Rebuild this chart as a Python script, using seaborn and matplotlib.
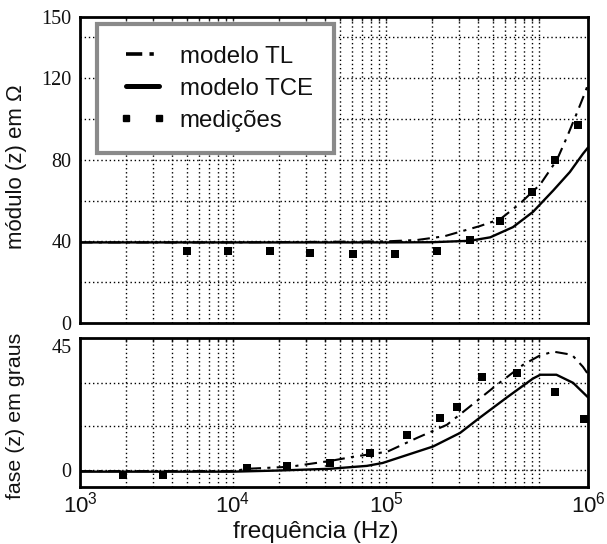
import matplotlib
matplotlib.use("Agg")
import matplotlib.pyplot as plt
import matplotlib.transforms as mtransforms
import seaborn as sns
import pandas as pd
from matplotlib.lines import Line2D
from matplotlib.ticker import FixedLocator, NullFormatter, FixedFormatter

# ---------------- data ----------------
freq_tl_mod = [1e3, 1e4, 1e5, 1.6e5, 2.4e5, 4.1e5, 5.6e5, 7.5e5, 1.02e6, 1.31e6, 1.52e6, 1.77e6, 2.0e6, 2.09e6]
mod_tl = [39.5, 39.5, 40.0, 40.7, 42.5, 47.5, 51.0, 58.5, 68.0, 80.0, 91.0, 103.0, 113.0, 117.0]

freq_tce_mod = [1e3, 1e4, 1e5, 2.0e5, 3.54e5, 4.8e5, 6.76e5, 9.14e5, 1.24e6, 1.59e6, 1.94e6, 2.09e6]
mod_tce = [39.5, 39.5, 39.5, 39.6, 40.3, 42.0, 47.0, 54.5, 65.0, 74.0, 83.0, 86.0]

freq_med_mod = [5.0e3, 9.3e3, 1.75e4, 3.2e4, 6.1e4, 1.15e5, 2.15e5, 3.54e5, 5.56e5, 9.0e5, 1.27e6, 1.80e6]
mod_med = [35.5, 35.5, 35.5, 34.5, 34.0, 34.0, 35.5, 40.5, 50.0, 64.0, 80.0, 97.0]

freq_tl_fase = [1e3, 1e4, 1.25e4, 2.36e4, 4.3e4, 6.2e4, 1.02e5, 1.6e5, 2.5e5, 3.38e5, 5.3e5, 7.85e5, 1.0e6, 1.24e6, 1.64e6, 1.94e6, 2.09e6]
fase_tl = [-0.5, -0.5, 0.3, 1.0, 3.0, 4.5, 6.2, 11.0, 15.5, 21.0, 29.3, 36.2, 39.3, 40.8, 39.7, 35.5, 33.0]

freq_tce_fase = [1e3, 1e4, 2e4, 4.3e4, 7.5e4, 9.5e4, 2.03e5, 3.05e5, 4.11e5, 6.18e5, 9.14e5, 1.02e6, 1.3e6, 1.67e6, 2.09e6]
fase_tce = [-0.7, -0.7, -0.3, 0.3, 1.3, 2.3, 8.0, 12.7, 18.0, 25.0, 31.5, 32.8, 32.8, 30.0, 25.0]

freq_med_fase = [1.9e3, 3.5e3, 1.23e4, 2.25e4, 4.3e4, 7.85e4, 1.37e5, 2.25e5, 2.91e5, 4.24e5, 7.18e5, 1.27e6, 1.97e6]
fase_med = [-1.7, -1.7, 0.7, 1.2, 2.4, 5.7, 12.0, 18.0, 21.7, 32.0, 33.4, 27.0, 17.6]

x_tick_labels = [r"$\mathregular{10^{3}}$", r"$\mathregular{10^{4}}$", r"$\mathregular{10^{5}}$", r"$\mathregular{10^{6}}$"]
mod_tick_labels = ["0", "40", "80", "120", "150"]
fase_tick_labels = ["0", "45"]
legend_labels = ["modelo TL", "modelo TCE", "medições"]

# ---------------- style ----------------
sns.set_style("white")
plt.rcParams["font.family"] = ["Liberation Sans", "DejaVu Sans"]
plt.rcParams["mathtext.fontset"] = "custom"
plt.rcParams["mathtext.rm"] = "Liberation Sans"
plt.rcParams["mathtext.it"] = "Liberation Sans:italic"

XMIN, XMAX = 1e3, 2.09e6
grid_x = [m * 10 ** k for k in (3, 4, 5) for m in range(2, 10)] + [1e4, 1e5, 1e6]
ink = "#111111"
dot = (0, (1, 2))
tl_dash = (0, (6, 3, 1.5, 3))

fig = plt.figure(figsize=(6.07, 5.44), dpi=100)
ax1 = fig.add_axes([80 / 607, 1 - 323 / 544, 508 / 607, 306 / 544])
ax2 = fig.add_axes([80 / 607, 1 - 487 / 544, 508 / 607, 149 / 544])

df_tl_m = pd.DataFrame({"f": freq_tl_mod, "v": mod_tl})
df_tce_m = pd.DataFrame({"f": freq_tce_mod, "v": mod_tce})
df_med_m = pd.DataFrame({"f": freq_med_mod, "v": mod_med})
df_tl_p = pd.DataFrame({"f": freq_tl_fase, "v": fase_tl})
df_tce_p = pd.DataFrame({"f": freq_tce_fase, "v": fase_tce})
df_med_p = pd.DataFrame({"f": freq_med_fase, "v": fase_med})

for ax, dtl, dtce, dmed in ((ax1, df_tl_m, df_tce_m, df_med_m), (ax2, df_tl_p, df_tce_p, df_med_p)):
    ax.set_xscale("log")
    sns.lineplot(data=dtce, x="f", y="v", ax=ax, color="black", lw=1.7, zorder=3)
    sns.lineplot(data=dtl, x="f", y="v", ax=ax, color="black", lw=1.5, linestyle=tl_dash, zorder=3)
    sns.scatterplot(data=dmed, x="f", y="v", ax=ax, color="black", marker="s", s=28, linewidth=0, zorder=4)
    ax.set_xlim(XMIN, XMAX)
    ax.xaxis.set_major_locator(FixedLocator([1e3, 1e4, 1e5, XMAX]))
    ax.xaxis.set_minor_locator(FixedLocator(grid_x))
    ax.xaxis.set_minor_formatter(NullFormatter())
    ax.grid(False)
    for g in grid_x:
        ax.axvline(g, color="black", lw=1.0, linestyle=dot, zorder=1)
    for s in ax.spines.values():
        s.set_linewidth(2.0)
        s.set_color("black")
    ax.tick_params(which="both", direction="in", length=3, width=1, top=True, right=False)
    ax.set_xlabel("")
    ax.set_ylabel("")

# top panel
ax1.set_ylim(0, 150)
ax1.yaxis.set_major_locator(FixedLocator([0, 40, 80, 120, 150]))
ax1.yaxis.set_major_formatter(FixedFormatter(mod_tick_labels))
for yv in (20, 40, 60, 80, 100, 120, 140):
    ax1.axhline(yv, color="black", lw=1.0, linestyle=dot, zorder=1)
ax1.xaxis.set_major_formatter(NullFormatter())

# bottom panel
ax2.set_ylim(-6, 45.5)
ax2.yaxis.set_major_locator(FixedLocator([0, 45]))
ax2.yaxis.set_major_formatter(FixedFormatter(fase_tick_labels))
for yv in (0, 15, 30):
    ax2.axhline(yv, color="black", lw=1.0, linestyle=dot, zorder=1)
ax2.xaxis.set_major_formatter(FixedFormatter(x_tick_labels))

for ax in (ax1, ax2):
    ax.tick_params(axis="y", pad=6)
ax2.tick_params(axis="x", pad=3)
for ax in (ax1, ax2):
    for lab in ax.get_yticklabels():
        lab.set_fontfamily("Liberation Serif")
        lab.set_fontsize(14.5)
        lab.set_color(ink)
for lab in ax2.get_xticklabels():
    lab.set_fontsize(16)
    lab.set_color(ink)
# "45" sits a little below the top edge in the reference
lab45 = ax2.get_yticklabels()[1]
lab45.set_transform(lab45.get_transform() + mtransforms.ScaledTranslation(0, -5 / 72, fig.dpi_scale_trans))

ax1.set_ylabel("módulo (z) em Ω", fontsize=16, color=ink)
ax1.yaxis.set_label_coords(-0.104, 0.51)
ax2.set_ylabel("fase (z) em graus", fontsize=15.4, color=ink)
ax2.yaxis.set_label_coords(-0.108, 0.48)
ax2.set_xlabel("frequência (Hz)", fontsize=17.5, color=ink)
ax2.xaxis.set_label_coords(0.465, -0.23)

handles = [
    Line2D([], [], color="black", lw=2.6, linestyle=(0, (4.5, 2, 1.2, 2))),
    Line2D([], [], color="black", lw=3.6),
    Line2D([], [], color="black", lw=0, marker="s", markersize=5),
]
leg = ax1.legend(handles, legend_labels, loc="upper left", bbox_to_anchor=(0.033, 0.977),
                 borderaxespad=0, frameon=True, fancybox=False, framealpha=1,
                 edgecolor="#8a8a8a", fontsize=17.3, handlelength=2.0, handletextpad=0.55,
                 labelspacing=0.42, borderpad=0.9, numpoints=2)
leg.get_frame().set_linewidth(3)
leg.set_zorder(10)
for t in leg.get_texts():
    t.set_color(ink)

fig.savefig("out.png", dpi=100)
